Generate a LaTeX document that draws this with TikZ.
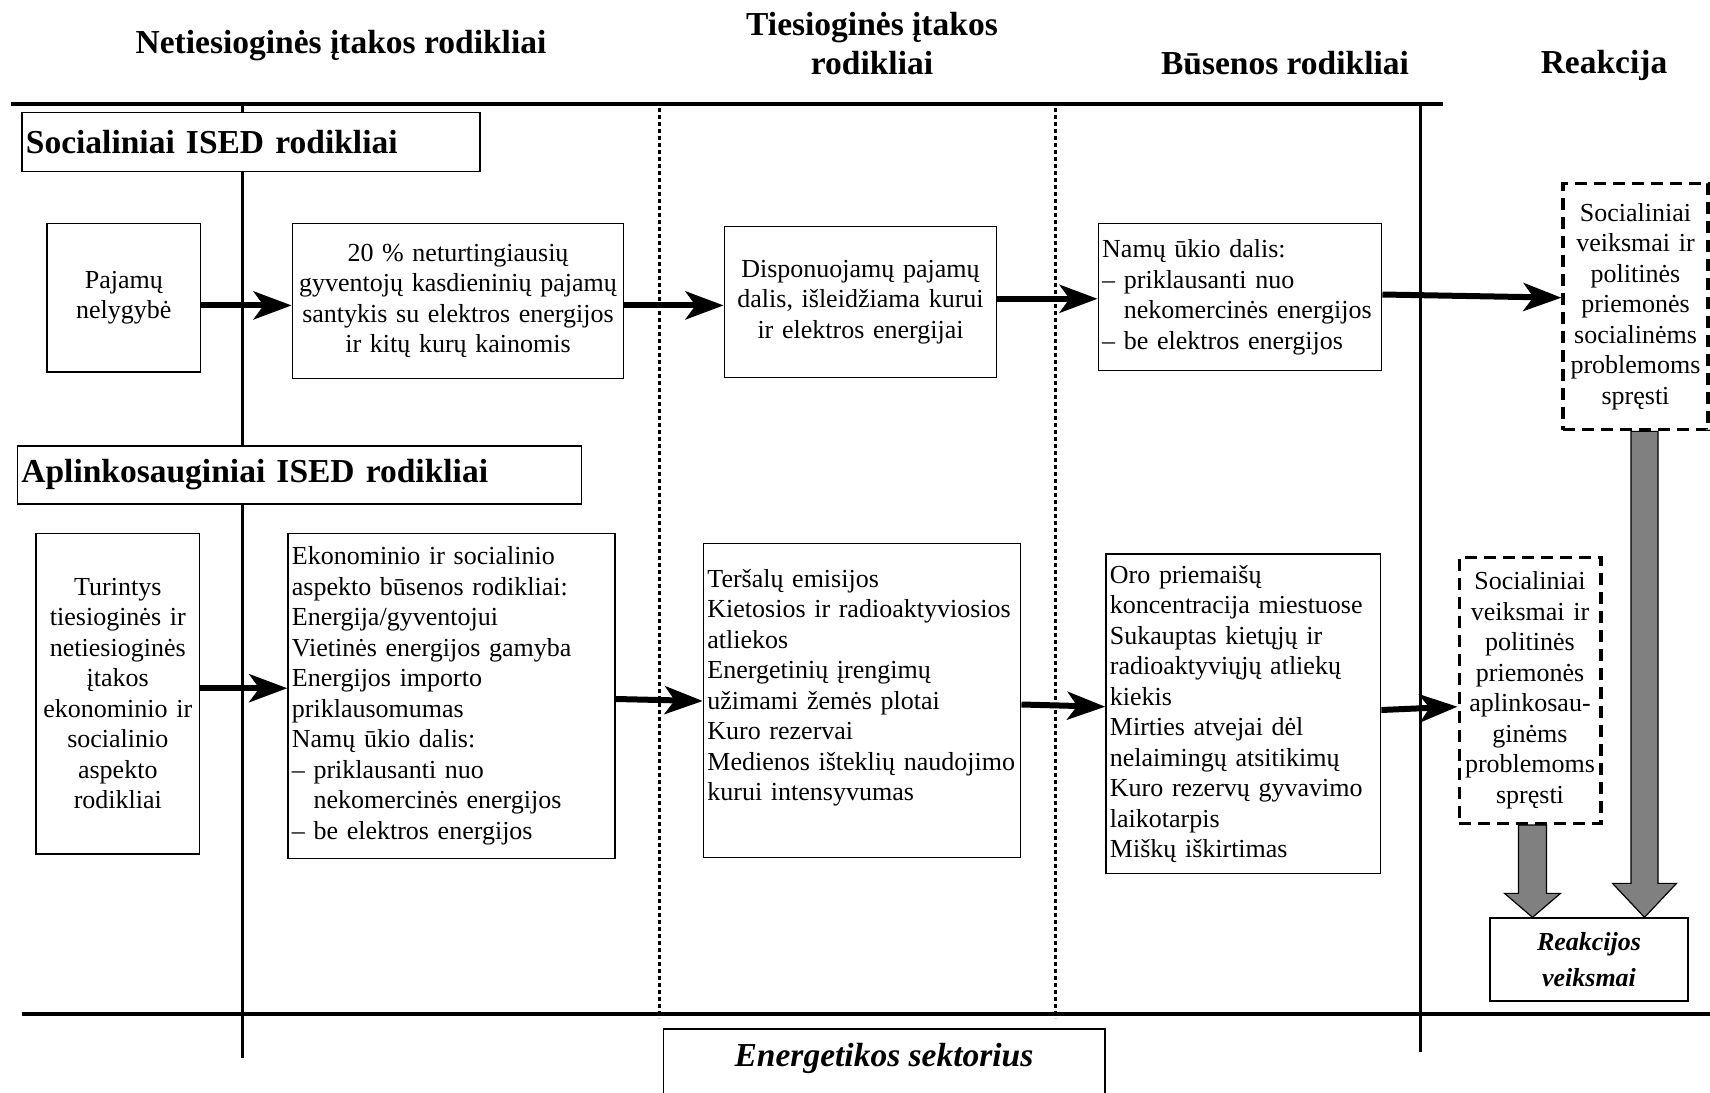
\documentclass[tikz,border=0pt]{standalone}
\usepackage{fontspec}
\setmainfont{Liberation Serif}
\usetikzlibrary{arrows.meta,calc}
\begin{document}
\begin{tikzpicture}[x=1pt,y=-1pt,
 every node/.style={font=\fontsize{26}{30.5}\selectfont, inner ysep=2pt},
 box/.style={draw=black, line width=1.3pt, fill=white, inner xsep=4pt},
 dbox/.style={draw=black, line width=3.2pt, dash pattern=on 12pt off 7pt, fill=white, inner xsep=2pt, align=center},
 hdr/.style={font=\fontsize{33.5}{39}\selectfont\bfseries, align=center},
 cat/.style={draw=black, line width=1.3pt, fill=white, font=\fontsize{33.5}{39}\selectfont\bfseries, align=left, inner xsep=4pt},
 arr/.style={line width=6pt, -{Stealth[length=38pt,width=28pt,inset=10pt]}},
 bigline/.style={line width=4pt},
 vline/.style={line width=3pt},
 dotline/.style={line width=3pt, dash pattern=on 4pt off 3pt},
 garr/.style={draw=black, line width=1.2pt, fill=gray}
]
\useasboundingbox (0,0) rectangle (1710,1092);

% headers
\node[hdr] (h1) at (341,46) {Netiesioginės įtakos rodikliai};
\node[hdr] (h2) at (872,43.5) {Tiesioginės įtakos\\rodikliai};
\node[hdr] (h3) at (1285,63) {Būsenos rodikliai};
\node[hdr] (h4) at (1604,65) {Reakcija};

% structural lines
\draw[bigline] (10.9,103.6) -- (1443,103.6);
\draw[bigline] (21.8,1014.3) -- (1710,1014.3);
\draw[vline] (242,103.6) -- (242,1058);
\draw[vline] (1420,103.6) -- (1420,1052.4);
\draw[dotline] (659.8,108) -- (659.8,1018);
\draw[dotline] (1055.7,108) -- (1055.7,1018);

% category boxes
\node[cat, minimum width=458, minimum height=59, text width=450] (sc) at (250.9,141.8) {Socialiniai ISED rodikliai};
\node[cat, minimum width=564, minimum height=58, text width=556] (ap) at (299.4,475) {Aplinkosauginiai ISED rodikliai};

% row 1
\node[box, align=center, minimum width=153.8, minimum height=148.3, text width=145.8] (paj) at (123.8,297.7) {Pajamų\\nelygybė};
\node[box, align=center, minimum width=331.5, minimum height=154.8, text width=323.5] (t20) at (458,301) {20 \% neturtingiausių\\gyventojų kasdieninių pajamų\\santykis su elektros energijos\\ir kitų kurų kainomis};
\node[box, align=center, minimum width=272.6, minimum height=150.5, text width=264.6] (dis) at (860.5,302) {Disponuojamų pajamų\\dalis, išleidžiama kurui\\ir elektros energijai};
\node[box, align=left, minimum width=283.6, minimum height=147.2, text width=275.6] (nam) at (1240,297.2) {Namų ūkio dalis:\\– priklausanti nuo\\\phantom{– }nekomercinės energijos\\– be elektros energijos};
\node[dbox, minimum width=145, minimum height=246.5, text width=141] (d1) at (1635.5,306.5) {Socialiniai\\veiksmai ir\\politinės\\priemonės\\socialinėms\\problemoms\\spręsti};

% row 2
\node[box, align=center, minimum width=163.6, minimum height=320.6, text width=155.6] (tur) at (117.8,693.6) {Turintys\\tiesioginės ir\\netiesioginės\\įtakos\\ekonominio ir\\socialinio\\aspekto\\rodikliai};
\node[box, align=left, minimum width=327.2, minimum height=325, text width=319.2] (eko) at (451.5,695.8) {Ekonominio ir socialinio\\aspekto būsenos rodikliai:\\Energija/gyventojui\\Vietinės energijos gamyba\\Energijos importo\\priklausomumas\\Namų ūkio dalis:\\– priklausanti nuo\\\phantom{– }nekomercinės energijos\\– be elektros energijos};
\node[box, align=left, minimum width=317.4, minimum height=314.1, text width=309.4] (ter) at (862.1,700.2) {Teršalų emisijos\\Kietosios ir radioaktyviosios\\atliekos\\Energetinių įrengimų\\užimami žemės plotai\\Kuro rezervai\\Medienos išteklių naudojimo\\kurui intensyvumas\\\mbox{}};
\node[box, align=left, minimum width=274.8, minimum height=319.6, text width=266.8] (oro) at (1243.3,713.8) {Oro priemaišų\\koncentracija miestuose\\Sukauptas kietųjų ir\\radioaktyviųjų atliekų\\kiekis\\Mirties atvejai dėl\\nelaimingų atsitikimų\\Kuro rezervų gyvavimo\\laikotarpis\\Miškų iškirtimas};
\node[dbox, minimum width=141.8, minimum height=266.1, text width=137.8] (d2) at (1530,690.4) {Socialiniai\\veiksmai ir\\politinės\\priemonės\\aplinkosau-\\ginėms\\problemoms\\spręsti};

% reaction box
\node[box, align=center, minimum width=198, minimum height=83, text width=190, font=\fontsize{26}{36}\selectfont\bfseries\itshape] (rv) at (1589,959.5) {Reakcijos\\veiksmai};

% energy sector
\node[box, anchor=north, minimum width=441.7, minimum height=72] (en) at (884,1028.4) {};
\node[font=\fontsize{33.5}{39}\selectfont\bfseries\itshape] (ent) at (884,1058) {Energetikos sektorius};

% row coordinates for arrows
\coordinate (ya1) at (0,305.4);
\coordinate (ya3) at (0,298.8);
\coordinate (ya4s) at (0,294.5);
\coordinate (ya4e) at (0,297.7);
\coordinate (yb1) at (0,688.2);
\coordinate (yb2s) at (0,699);
\coordinate (yb2e) at (0,701);
\coordinate (yb3s) at (0,704.5);
\coordinate (yb3e) at (0,706.7);
\coordinate (yb4s) at (0,710);
\coordinate (yb4e) at (0,706.7);

\draw[arr] (paj.east |- ya1) -- (t20.west |- ya1);
\draw[arr] (t20.east |- ya1) -- (dis.west |- ya1);
\draw[arr] (dis.east |- ya3) -- (nam.west |- ya3);
\draw[arr] (nam.east |- ya4s) -- (d1.west |- ya4e);
\draw[arr] (tur.east |- yb1) -- (eko.west |- yb1);
\draw[arr] (eko.east |- yb2s) -- (ter.west |- yb2e);
\draw[arr] (ter.east |- yb3s) -- (oro.west |- yb3e);
\draw[arr] (oro.east |- yb4s) -- (d2.west |- yb4e);

% grey block arrows
\coordinate (g1a) at ([xshift=9pt]d1.south);
\coordinate (g1b) at (g1a |- rv.north);
\draw[garr] ($(g1a)+(-13.5,0)$) -- ($(g1b)+(-13.5,-34)$) -- ($(g1b)+(-32,-34)$) -- (g1b) -- ($(g1b)+(32,-34)$) -- ($(g1b)+(13.5,-34)$) -- ($(g1a)+(13.5,0)$) -- cycle;
\coordinate (g2a) at ([xshift=2.5pt]d2.south);
\coordinate (g2b) at (g2a |- rv.north);
\draw[garr] ($(g2a)+(-14,0)$) -- ($(g2b)+(-14,-24)$) -- ($(g2b)+(-28,-24)$) -- (g2b) -- ($(g2b)+(28,-24)$) -- ($(g2b)+(14,-24)$) -- ($(g2a)+(14,0)$) -- cycle;
\end{tikzpicture}
\end{document}
